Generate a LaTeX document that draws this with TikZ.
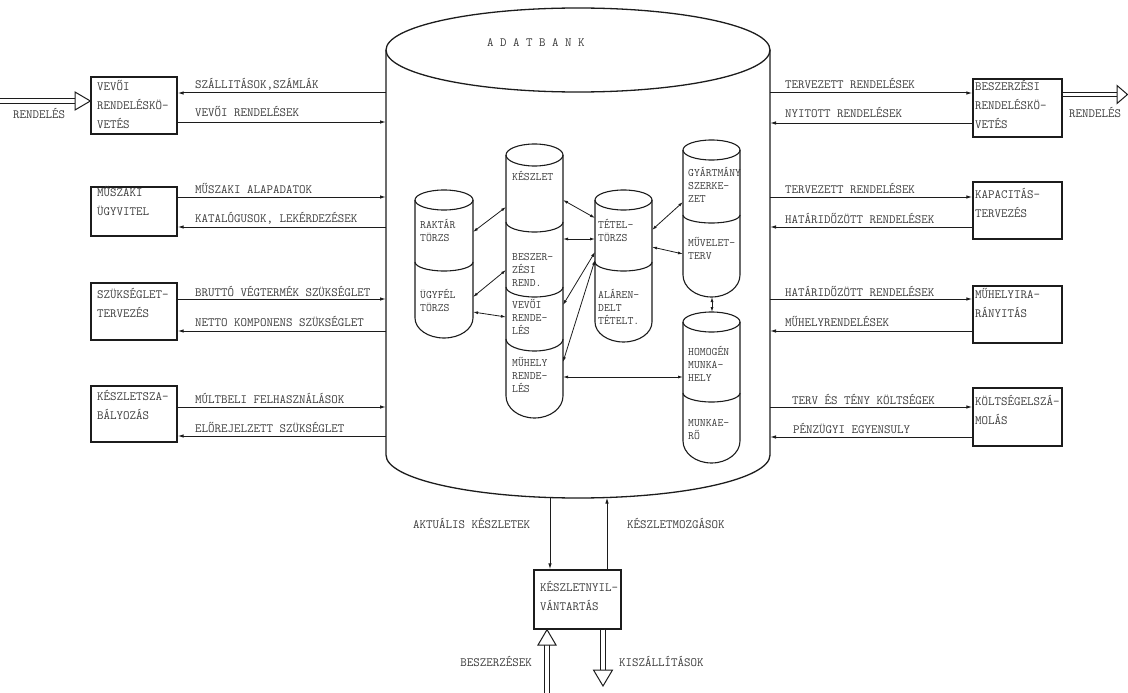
\documentclass[tikz,border=0pt]{standalone}
\usepackage{fontspec}
\usetikzlibrary{arrows.meta}

\definecolor{ink}{HTML}{1C1C1C}
\definecolor{typeink}{HTML}{3C3C3C}

% inner data cylinder: left x, right x, top-centre y, top y-radius, side-bottom y, bottom y-radius
\newcommand\dbcyl[6]{%
  \pgfmathsetmacro\dbrx{(#2-#1)/2}%
  \draw[cyl] ({(#1+#2)/2},#3) ellipse [x radius=\dbrx pt, y radius=#4pt];
  \draw[cyl] (#1,#3) -- (#1,#5) arc[start angle=180,end angle=360,x radius=\dbrx pt,y radius=#6pt] -- (#2,#3);
}
% section line inside a cylinder: left x, right x, side y, dip
\newcommand\dbsplit[4]{%
  \pgfmathsetmacro\dbrx{(#2-#1)/2}%
  \draw[cyl] (#1,#3) arc[start angle=180,end angle=360,x radius=\dbrx pt,y radius=#4pt];
}

\begin{document}
\begin{tikzpicture}[x=1pt,y=-1pt,
  every node/.style={font=\ttfamily\fontsize{12.6}{19}\selectfont, text=typeink, inner sep=0pt},
  box/.style={draw=ink, line width=1.3pt, minimum width=86pt, minimum height=57pt},
  rbox/.style={box, minimum width=89pt},
  boxtext/.style={anchor=base west, align=left, text width=95pt},
  celltext/.style={anchor=base west, align=left, text width=70pt, font=\ttfamily\fontsize{11.4}{13}\selectfont},
  lbl/.style={anchor=base west},
  flow/.style={draw=ink, line width=1pt, -{Latex[length=6pt,width=3.5pt]}},
  link/.style={draw=ink, line width=0.8pt, {Latex[length=5pt,width=3pt]}-{Latex[length=5pt,width=3pt]}},
  cyl/.style={draw=ink, line width=1.1pt},
  bigcyl/.style={draw=ink, line width=1.3pt},
  pipe/.style={draw=ink, line width=1pt, double=white, double distance=3.5pt},
  head/.style={draw=ink, line width=1pt, fill=white, line join=miter},
]
\useasboundingbox (0,0) rectangle (1128,693);

% ---------------- central data bank ----------------
\draw[bigcyl] (578,50) ellipse [x radius=192pt, y radius=42pt];
\draw[bigcyl] (386,50) -- (386,455) arc[start angle=180,end angle=360,x radius=192pt,y radius=43pt] -- (770,50);
\node[lbl] (adatbank) at (487,46.5) {A D A T B A N K};

% inner files
\dbcyl{415}{473}{200}{10}{318}{20}
\dbsplit{415}{473}{262}{9}
\dbcyl{506}{563}{155}{11}{396}{22}
\dbsplit{506}{563}{222}{10}
\dbsplit{506}{563}{287}{10}
\dbsplit{506}{563}{339}{12}
\dbcyl{595}{652}{200}{10}{322}{20}
\dbsplit{595}{652}{262}{9}
\dbcyl{683}{740}{150}{10}{275}{22}
\dbsplit{683}{740}{215}{8}
\dbcyl{683}{740}{322}{10}{441}{22}
\dbsplit{683}{740}{393}{9}

\node[celltext] (raktar)  at (420,228.5) {RAKTÁR\\TÖRZS};
\node[celltext] (ugyfel)  at (420,298.5) {ÜGYFÉL\\TÖRZS};
\node[celltext] (keszlet) at (512,180.5) {KÉSZLET};
\node[celltext] (beszrend) at (512,260.5) {BESZER-\\ZÉSI\\REND.};
\node[celltext] (vevorend) at (512,308.5) {VEVŐI\\RENDE-\\LÉS};
\node[celltext] (muhrend) at (512,366.5) {MŰHELY\\RENDE-\\LÉS};
\node[celltext] (tetel)   at (598,228.5) {TÉTEL-\\TÖRZS};
\node[celltext] (alarend) at (598,298.5) {ALÁREN-\\DELT\\TÉTELT.};
\node[celltext] (gyartm)  at (688,176.5) {GYÁRTMÁNY\\SZERKE-\\ZET};
\node[celltext] (muvelet) at (688,246.5) {MŰVELET-\\TERV};
\node[celltext] (homogen) at (688,355.5) {HOMOGÉN\\MUNKA-\\HELY};
\node[celltext] (munkaero) at (688,426.5) {MUNKAE-\\RŐ};

% links between the files
\coordinate (a1) at (473,232); \coordinate (b1) at (506,207);
\coordinate (a2) at (473,297); \coordinate (b2) at (506,270);
\coordinate (a3) at (473,312); \coordinate (b3) at (506,317);
\coordinate (b4) at (563,200); \coordinate (c4) at (595,218);
\coordinate (b5) at (563,239); \coordinate (c5) at (595,239);
\coordinate (b6) at (563,305); \coordinate (c6) at (595,252);
\coordinate (b7) at (563,362); \coordinate (c7) at (595,260);
\coordinate (c8) at (652,230); \coordinate (d8) at (683,202);
\coordinate (c9) at (652,247); \coordinate (d9) at (683,254);
\coordinate (b10) at (563,377); \coordinate (e10) at (683,377);
\coordinate (d11) at (712,297); \coordinate (e11) at (712,312);
\foreach \p/\q in {a1/b1,a2/b2,a3/b3,b4/c4,b5/c5,b6/c6,b7/c7,c8/d8,c9/d9,b10/e10,d11/e11}
  \draw[link] (\p) -- (\q);

% ---------------- left systems ----------------
\node[box] (vevo) at (134,105.5) {};
\node[box, minimum height=49pt] (muszaki) at (134,211.5) {};
\node[box] (szukseglet) at (134,311.5) {};
\node[box, minimum height=56pt] (keszletsz) at (134,414) {};
\node[boxtext] (vevot) at (97,90.5) {VEVŐI\\RENDELÉSKÖ-\\VETÉS};
\node[boxtext] (muszakit) at (97,196.5) {MŰSZAKI\\ÜGYVITEL};
\node[boxtext] (szukseglett) at (97,298.5) {SZÜKSÉGLET-\\TERVEZÉS};
\node[boxtext] (keszletszt) at (97,400.5) {KÉSZLETSZA-\\BÁLYOZÁS};

\coordinate (l1) at (386,93);  \coordinate (l2) at (386,122);
\coordinate (l3) at (386,197); \coordinate (l4) at (386,227);
\coordinate (l5) at (386,299); \coordinate (l6) at (386,331);
\coordinate (l7) at (386,407); \coordinate (l8) at (386,436);
\draw[flow] (l1) -- (l1 -| vevo.east);
\draw[flow] (l2 -| vevo.east) -- (l2);
\draw[flow] (l3 -| muszaki.east) -- (l3);
\draw[flow] (l4) -- (l4 -| muszaki.east);
\draw[flow] (l5 -| szukseglet.east) -- (l5);
\draw[flow] (l6) -- (l6 -| szukseglet.east);
\draw[flow] (l7 -| keszletsz.east) -- (l7);
\draw[flow] (l8) -- (l8 -| keszletsz.east);

\node[lbl] (tl1) at (195,88.5)  {SZÁLLITÁSOK,SZÁMLÁK};
\node[lbl] (tl2) at (195,116.5) {VEVŐI RENDELÉSEK};
\node[lbl] (tl3) at (195,193.5) {MŰSZAKI ALAPADATOK};
\node[lbl] (tl4) at (195,222.5) {KATALÓGUSOK, LEKÉRDEZÉSEK};
\node[lbl] (tl5) at (195,296.5) {BRUTTÓ VÉGTERMÉK SZÜKSÉGLET};
\node[lbl] (tl6) at (195,326.5) {NETTO KOMPONENS SZÜKSÉGLET};
\node[lbl] (tl7) at (195,403.5) {MÚLTBELI FELHASZNÁLÁSOK};
\node[lbl] (tl8) at (195,432.5) {ELŐREJELZETT SZÜKSÉGLET};

% incoming customer order
\coordinate (inl) at (0,101);
\coordinate (inlbase) at (75,101);
\draw[pipe] (inl) -- (inlbase);
\draw[head] (75,92) -- (vevo.west |- inl) -- (75,110) -- cycle;
\node[lbl] (inllbl) at (13,118.5) {RENDELÉS};

% ---------------- right systems ----------------
\node[rbox, minimum height=58pt] (beszerzes) at (1017.5,108) {};
\node[rbox] (kapacitas) at (1017.5,210.5) {};
\node[rbox] (muhely) at (1017.5,314.5) {};
\node[rbox, minimum height=58pt] (koltseg) at (1017.5,417) {};
\node[boxtext] (beszerzest) at (975,90.5) {BESZERZÉSI\\RENDELÉSKÖ-\\VETÉS};
\node[boxtext] (kapacitast) at (975,198.5) {KAPACITÁS-\\TERVEZÉS};
\node[boxtext] (muhelyt) at (975,298.5) {MŰHELYIRA-\\RÁNYITÁS};
\node[boxtext] (koltsegt) at (975,405.5) {KÖLTSÉGELSZÁ-\\MOLÁS};

\coordinate (r1) at (770,93);  \coordinate (r2) at (770,123);
\coordinate (r3) at (770,197); \coordinate (r4) at (770,227);
\coordinate (r5) at (770,299); \coordinate (r6) at (770,331);
\coordinate (r7) at (770,407); \coordinate (r8) at (770,437);
\draw[flow] (r1) -- (r1 -| beszerzes.west);
\draw[flow] (r2 -| beszerzes.west) -- (r2);
\draw[flow] (r3) -- (r3 -| kapacitas.west);
\draw[flow] (r4 -| kapacitas.west) -- (r4);
\draw[flow] (r5) -- (r5 -| muhely.west);
\draw[flow] (r6 -| muhely.west) -- (r6);
\draw[flow] (r7) -- (r7 -| koltseg.west);
\draw[flow] (r8 -| koltseg.west) -- (r8);

\node[lbl] (tr1) at (785,88.5)  {TERVEZETT RENDELÉSEK};
\node[lbl] (tr2) at (785,117.5) {NYITOTT RENDELÉSEK};
\node[lbl] (tr3) at (785,193.5) {TERVEZETT RENDELÉSEK};
\node[lbl] (tr4) at (785,223.5) {HATÁRIDŐZÖTT RENDELÉSEK};
\node[lbl] (tr5) at (785,296.5) {HATÁRIDŐZÖTT RENDELÉSEK};
\node[lbl] (tr6) at (785,326.5) {MŰHELYRENDELÉSEK};
\node[lbl] (tr7) at (792,404.5) {TERV ÉS TÉNY KÖLTSÉGEK};
\node[lbl] (tr8) at (793,433.5) {PÉNZÜGYI EGYENSULY};

% outgoing purchase order
\coordinate (outr) at (1128,94.5);
\coordinate (outrbase) at (1117,94.5);
\draw[pipe] (beszerzes.east |- outr) -- (outrbase);
\draw[head] (1117,85.5) -- (1127.5,94.5) -- (1117,103.5) -- cycle;
\node[lbl] (outrlbl) at (1069,117.5) {RENDELÉS};

% ---------------- stock accounting ----------------
\node[box, minimum width=87pt, minimum height=59pt] (nyilv) at (577.5,599.5) {};
\node[boxtext] (nyilvt) at (540,591.5) {KÉSZLETNYIL-\\VÁNTARTÁS};

\coordinate (bk1) at (550,497.5);
\coordinate (bk2) at (607,497.5);
\draw[flow] (bk1) -- (bk1 |- nyilv.north);
\draw[flow] (bk2 |- nyilv.north) -- (bk2);
\node[lbl] (aktualis) at (413,528.5) {AKTUÁLIS KÉSZLETEK};
\node[lbl] (mozgas) at (627,528.5) {KÉSZLETMOZGÁSOK};

% purchases in, deliveries out
\coordinate (inb) at (547,693);
\coordinate (inbbase) at (547,645);
\draw[pipe] (inb) -- (inbbase);
\draw[head] (538,645) -- (inb |- nyilv.south) -- (556,645) -- cycle;
\node[lbl, anchor=base east] (beszerz) at (532,666.5) {BESZERZÉSEK};

\coordinate (outb) at (603,670);
\draw[pipe] (outb |- nyilv.south) -- (outb);
\draw[head] (593.5,670) -- (603,686) -- (612.5,670) -- cycle;
\node[lbl] (kiszall) at (619,666.5) {KISZÁLLÍTÁSOK};
\end{tikzpicture}
\end{document}
